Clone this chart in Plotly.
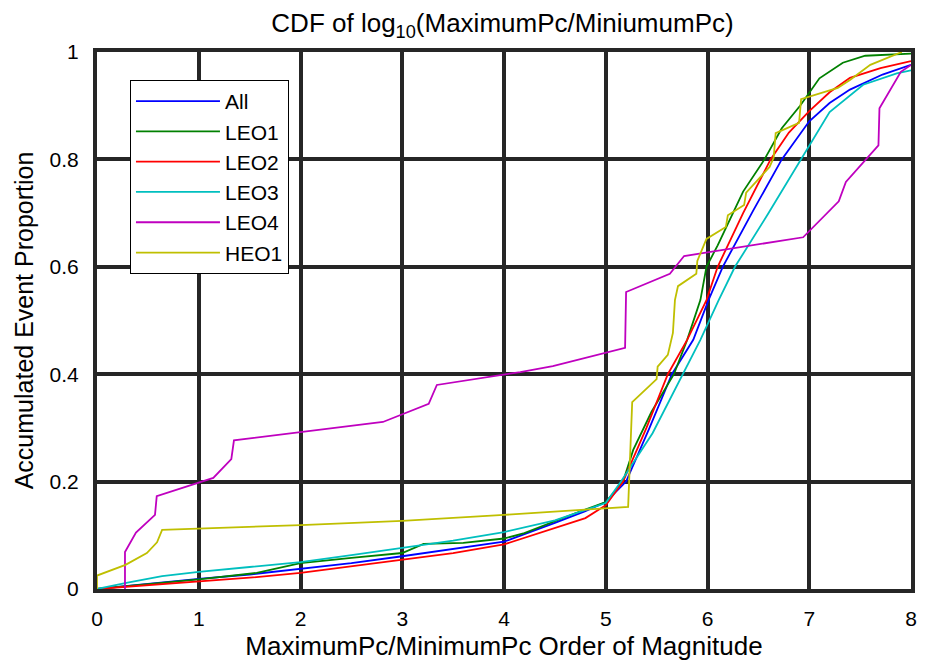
import plotly.graph_objects as go

# ---- data ----
all_x = [0, 0.5, 1, 1.5, 2, 2.5, 3, 3.5, 4, 4.5, 4.8, 5.0, 5.2, 5.43, 5.65, 5.86, 6.01, 6.15, 6.45, 6.73, 7.0, 7.2, 7.4, 7.72, 8.0]
all_y = [0, 0.01, 0.019, 0.027, 0.037, 0.048, 0.061, 0.074, 0.088, 0.123, 0.145, 0.162, 0.2, 0.3, 0.4, 0.464, 0.538, 0.6, 0.705, 0.8, 0.871, 0.905, 0.93, 0.958, 0.976]

leo1_x = [0, 0.5, 1, 1.57, 1.73, 2.0, 2.5, 3.0, 3.21, 3.6, 4.0, 4.2, 4.7, 5.0, 5.17, 5.27, 5.45, 5.67, 5.8, 5.93, 5.99, 6.1, 6.2, 6.35, 6.56, 6.73, 6.91, 7.1, 7.33, 7.55, 8.0]
leo1_y = [0, 0.009, 0.018, 0.03, 0.037, 0.048, 0.058, 0.067, 0.084, 0.086, 0.094, 0.104, 0.141, 0.162, 0.2, 0.259, 0.33, 0.4, 0.464, 0.538, 0.6, 0.64, 0.68, 0.74, 0.8, 0.858, 0.9, 0.951, 0.98, 0.993, 0.997]

leo2_x = [0, 0.5, 1, 1.5, 2, 2.5, 3, 3.5, 4, 4.5, 4.8, 5.0, 5.17, 5.4, 5.61, 5.8, 5.99, 6.1, 6.35, 6.62, 6.8, 7.0, 7.2, 7.4, 7.7, 8.0]
leo2_y = [0, 0.007, 0.013, 0.021, 0.03, 0.042, 0.054, 0.067, 0.083, 0.114, 0.132, 0.156, 0.2, 0.3, 0.4, 0.464, 0.538, 0.6, 0.7, 0.8, 0.85, 0.89, 0.925, 0.952, 0.97, 0.983]

leo3_x = [0, 0.3, 0.64, 1, 1.5, 2, 2.5, 3, 3.5, 4, 4.5, 5.0, 5.15, 5.46, 5.76, 5.93, 6.11, 6.27, 6.6, 6.92, 7.2, 7.53, 7.86, 8.0]
leo3_y = [0, 0.012, 0.024, 0.032, 0.041, 0.05, 0.063, 0.076, 0.09, 0.106, 0.128, 0.16, 0.2, 0.29, 0.4, 0.464, 0.538, 0.6, 0.7, 0.8, 0.888, 0.939, 0.96, 0.966]

leo4_x = [0.275, 0.275, 0.383, 0.57, 0.587, 1.143, 1.32, 1.346, 2.81, 3.26, 3.34, 4.16, 4.48, 5.19, 5.2, 5.63, 5.77, 6.94, 7.29, 7.36, 7.68, 7.69, 7.9, 8.0]
leo4_y = [0, 0.069, 0.105, 0.138, 0.173, 0.207, 0.242, 0.277, 0.311, 0.345, 0.38, 0.404, 0.415, 0.449, 0.553, 0.587, 0.62, 0.655, 0.722, 0.758, 0.826, 0.895, 0.963, 0.976]

heo1_x = [0, 0, 0.28, 0.49, 0.59, 0.64, 2.0, 3.0, 4.0, 5.22, 5.26, 5.5, 5.51, 5.61, 5.66, 5.68, 5.71, 5.89, 5.9, 5.99, 6.18, 6.2, 6.36, 6.38, 6.61, 6.65, 6.67, 6.9, 6.92, 7.28, 7.4, 7.6, 7.91]
heo1_y = [0, 0.025, 0.045, 0.067, 0.087, 0.11, 0.119, 0.127, 0.138, 0.153, 0.348, 0.391, 0.414, 0.436, 0.477, 0.538, 0.564, 0.587, 0.611, 0.652, 0.674, 0.696, 0.715, 0.738, 0.786, 0.803, 0.849, 0.868, 0.912, 0.933, 0.948, 0.976, 1.0]

series = [
    ("All", all_x, all_y, "#0000FF"),
    ("LEO1", leo1_x, leo1_y, "#008000"),
    ("LEO2", leo2_x, leo2_y, "#FF0000"),
    ("LEO3", leo3_x, leo3_y, "#00BFBF"),
    ("LEO4", leo4_x, leo4_y, "#BF00BF"),
    ("HEO1", heo1_x, heo1_y, "#BFBF00"),
]

x_ticks = [0, 1, 2, 3, 4, 5, 6, 7, 8]
y_ticks = [0, 0.2, 0.4, 0.6, 0.8, 1]
y_tick_labels = ["0", "0.2", "0.4", "0.6", "0.8", "1"]

FONT = "Liberation Sans, Arial, sans-serif"
GRID = "#262626"

fig = go.Figure()
for name, xs, ys, col in series:
    fig.add_trace(go.Scatter(x=xs, y=ys, mode="lines", name=name,
                             line=dict(color=col, width=1.8)))

fig.update_layout(
    width=928, height=661,
    paper_bgcolor="white", plot_bgcolor="white",
    margin=dict(l=97, r=17, t=52, b=72, autoexpand=False),
    font=dict(family=FONT, size=21, color="black"),
    title=dict(text="CDF of log<sub>10</sub>(MaximumPc/MiniumumPc)",
               x=0.5415, xanchor="center", y=1 - 23 / 661, yanchor="middle",
               font=dict(family=FONT, size=26, color="black")),
    xaxis=dict(range=[0, 8], tickvals=x_ticks, showgrid=True, gridcolor=GRID, gridwidth=4,
               showline=True, linecolor=GRID, linewidth=4, mirror=True, zeroline=False,
               ticks="", ticklabelstandoff=8, tickfont=dict(family=FONT, size=21),
               title=dict(text="MaximumPc/MinimumPc Order of Magnitude", standoff=12,
                          font=dict(family=FONT, size=26, color="black"))),
    yaxis=dict(range=[0, 1], tickvals=y_ticks, ticktext=y_tick_labels, showgrid=True,
               gridcolor=GRID, gridwidth=4, showline=True, linecolor=GRID, linewidth=4,
               mirror=True, zeroline=False, ticks="", ticklabelstandoff=10,
               tickfont=dict(family=FONT, size=21),
               title=dict(text="Accumulated Event Proportion", standoff=10,
                          font=dict(family=FONT, size=25, color="black"))),
    legend=dict(x=0.0405, y=0.948, xanchor="left", yanchor="top",
                bgcolor="white", bordercolor="black", borderwidth=1,
                font=dict(family=FONT, size=21), itemwidth=84,
                tracegroupgap=0),
    showlegend=True,
)

fig.write_html("out.html")
